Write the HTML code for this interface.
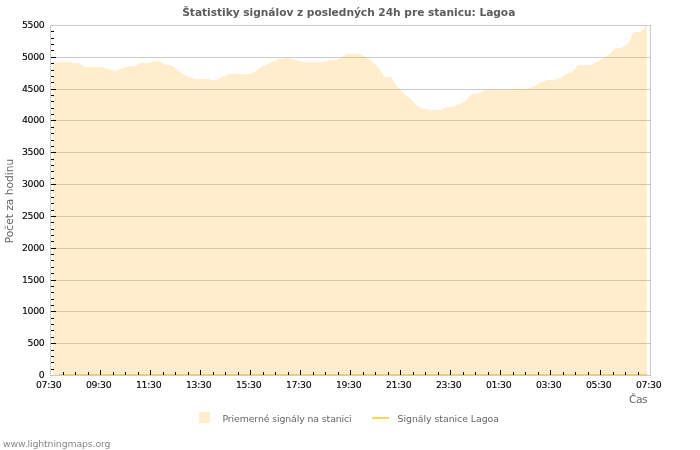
<!DOCTYPE html>
<html lang="sk"><head><meta charset="utf-8"><title>Štatistiky signálov</title>
<style>
html,body{margin:0;padding:0;background:#fff}
body{width:700px;height:450px;overflow:hidden}
svg{display:block;font-family:"DejaVu Sans","Liberation Sans",sans-serif}
.g{shape-rendering:crispEdges}
.t{font-size:9.33px;fill:#000;letter-spacing:-0.3px;stroke:#000;stroke-width:0.1px}
</style></head><body>
<svg width="700" height="450" viewBox="0 0 700 450">
<rect width="700" height="450" fill="#fff"/>
<g class="g">
<rect x="51" y="343" width="599" height="1" fill="#cccccc"/>
<rect x="51" y="311" width="599" height="1" fill="#cccccc"/>
<rect x="51" y="280" width="599" height="1" fill="#cccccc"/>
<rect x="51" y="248" width="599" height="1" fill="#cccccc"/>
<rect x="51" y="216" width="599" height="1" fill="#cccccc"/>
<rect x="51" y="184" width="599" height="1" fill="#cccccc"/>
<rect x="51" y="152" width="599" height="1" fill="#cccccc"/>
<rect x="51" y="120" width="599" height="1" fill="#cccccc"/>
<rect x="51" y="89" width="599" height="1" fill="#cccccc"/>
<rect x="51" y="57" width="599" height="1" fill="#cccccc"/>
<path d="M53 375V62H72V63H79V64H81V65H82V66H84V67H90V66H91V67H104V68H107V69H110V70H113V71H117V70H119V69H121V68H125V67H128V66H136V65H138V64H140V63H150V62H153V61H160V62H162V63H163V64H165V65H172V66H173V67H174V68H176V69H177V70H178V71H179V72H181V73H182V74H184V75H185V76H188V77H191V78H194V79H210V80H217V79H219V78H221V77H223V76H226V75H228V74H234V73H235V74H250V73H253V72H255V71H256V70H258V69H259V68H261V67H263V66H265V65H267V64H269V63H271V62H273V61H276V60H278V59H284V58H291V59H294V60H297V61H301V62H325V61H328V60H337V59H340V58H342V57H343V56H345V55H346V54H359V53H360V54H362V55H363V56H365V57H366V58H368V59H369V60H371V61H372V62H373V63H374V64H375V65H376V66H377V67H378V68H379V69H380V71H381V72H382V74H383V75H384V77H391V78H392V80H393V81H394V83H395V84H396V86H397V87H398V88H399V89H400V90H401V91H402V92H403V93H404V94H405V95H406V96H407V97H409V98H410V99H411V100H412V101H413V102H414V103H415V104H416V105H418V106H419V107H420V108H422V109H429V110H442V109H444V108H446V107H453V106H456V105H459V104H461V103H463V102H465V101H466V100H467V99H468V97H469V96H470V95H471V94H478V93H480V92H482V91H484V90H515V89H528V88H531V87H534V86H536V85H537V84H539V83H540V82H543V81H546V80H556V79H559V78H561V77H562V76H564V75H565V74H568V73H571V72H572V71H573V70H574V69H575V68H576V67H577V66H578V65H584V64H585V65H592V64H594V63H596V62H598V61H600V60H601V59H603V58H605V57H606V56H608V55H609V54H610V53H611V52H612V51H613V50H614V49H615V48H622V47H624V46H625V45H627V44H628V43H629V41H630V39H631V37H632V34H633V33H634V32H641V31H642V30H643V29H644V28H645V27H646V26H647V375Z" fill="rgba(255,165,0,0.2)"/>
<rect x="59" y="374" width="588" height="1" fill="#ffd146"/>
<path d="M50 25H651V376H50ZM51 26V375H650V26Z" fill="#cbcbcb" fill-rule="evenodd"/>
<path d="M51 369h3v1h-3zM51 362h3v1h-3zM51 356h3v1h-3zM51 350h3v1h-3zM51 343h5v1h-5zM51 337h3v1h-3zM51 330h3v1h-3zM51 324h3v1h-3zM51 318h3v1h-3zM51 311h5v1h-5zM51 305h3v1h-3zM51 299h3v1h-3zM51 292h3v1h-3zM51 286h3v1h-3zM51 280h5v1h-5zM51 273h3v1h-3zM51 267h3v1h-3zM51 260h3v1h-3zM51 254h3v1h-3zM51 248h5v1h-5zM51 241h3v1h-3zM51 235h3v1h-3zM51 229h3v1h-3zM51 222h3v1h-3zM51 216h5v1h-5zM51 210h3v1h-3zM51 203h3v1h-3zM51 197h3v1h-3zM51 190h3v1h-3zM51 184h5v1h-5zM51 178h3v1h-3zM51 171h3v1h-3zM51 165h3v1h-3zM51 159h3v1h-3zM51 152h5v1h-5zM51 146h3v1h-3zM51 140h3v1h-3zM51 133h3v1h-3zM51 127h3v1h-3zM51 120h5v1h-5zM51 114h3v1h-3zM51 108h3v1h-3zM51 101h3v1h-3zM51 95h3v1h-3zM51 89h5v1h-5zM51 82h3v1h-3zM51 76h3v1h-3zM51 70h3v1h-3zM51 63h3v1h-3zM51 57h5v1h-5zM51 50h3v1h-3zM51 44h3v1h-3zM51 38h3v1h-3zM51 31h3v1h-3zM63 372h1v3h-1zM75 372h1v3h-1zM88 372h1v3h-1zM100 370h1v5h-1zM113 372h1v3h-1zM125 372h1v3h-1zM138 372h1v3h-1zM150 370h1v5h-1zM163 372h1v3h-1zM175 372h1v3h-1zM188 372h1v3h-1zM200 370h1v5h-1zM213 372h1v3h-1zM225 372h1v3h-1zM238 372h1v3h-1zM250 370h1v5h-1zM263 372h1v3h-1zM275 372h1v3h-1zM288 372h1v3h-1zM300 370h1v5h-1zM313 372h1v3h-1zM325 372h1v3h-1zM338 372h1v3h-1zM350 370h1v5h-1zM363 372h1v3h-1zM375 372h1v3h-1zM388 372h1v3h-1zM400 370h1v5h-1zM413 372h1v3h-1zM425 372h1v3h-1zM438 372h1v3h-1zM450 370h1v5h-1zM463 372h1v3h-1zM475 372h1v3h-1zM488 372h1v3h-1zM500 370h1v5h-1zM513 372h1v3h-1zM525 372h1v3h-1zM538 372h1v3h-1zM550 370h1v5h-1zM563 372h1v3h-1zM575 372h1v3h-1zM588 372h1v3h-1zM600 370h1v5h-1zM613 372h1v3h-1zM625 372h1v3h-1zM638 372h1v3h-1z" fill="#000"/>
<rect x="199" y="412" width="11" height="11" fill="rgba(255,165,0,0.2)"/>
<rect x="372" y="417" width="17" height="2" fill="#ffd656"/>
</g>
<text transform="translate(182.2 15.7) scale(1 0.94)" font-size="10.67px" font-weight="bold" fill="#5c5c5c" letter-spacing="-0.04" id="title">Štatistiky signálov z posledných 24h pre stanicu: Lagoa</text>
<g class="t" text-anchor="end"><text x="44.5" y="378">0</text><text x="44.5" y="346">500</text><text x="44.5" y="314">1000</text><text x="44.5" y="283">1500</text><text x="44.5" y="251">2000</text><text x="44.5" y="219">2500</text><text x="44.5" y="187">3000</text><text x="44.5" y="155">3500</text><text x="44.5" y="123">4000</text><text x="44.5" y="92">4500</text><text x="44.5" y="60">5000</text><text x="44.5" y="28">5500</text></g>
<g class="t" text-anchor="middle"><text x="48.6" y="388">07:30</text><text x="98.6" y="388">09:30</text><text x="148.6" y="388">11:30</text><text x="198.6" y="388">13:30</text><text x="248.6" y="388">15:30</text><text x="298.6" y="388">17:30</text><text x="348.6" y="388">19:30</text><text x="398.6" y="388">21:30</text><text x="448.6" y="388">23:30</text><text x="498.6" y="388">01:30</text><text x="548.6" y="388">03:30</text><text x="598.6" y="388">05:30</text><text x="648.6" y="388">07:30</text></g>
<text transform="translate(13 201) rotate(-90)" text-anchor="middle" font-size="10.67px" fill="#666" id="ytitle">Počet za hodinu</text>
<text x="629" y="403" font-size="10.67px" fill="#666" letter-spacing="-0.45" id="xtitle">Čas</text>
<text x="222.5" y="422" font-size="9.33px" fill="#666" letter-spacing="-0.1" id="leg1">Priemerné signály na stanici</text>
<text x="397.6" y="422" font-size="9.33px" fill="#666" letter-spacing="-0.03" id="leg2">Signály stanice Lagoa</text>
<text x="3" y="446.5" font-size="9.33px" fill="#888" letter-spacing="-0.12" id="foot">www.lightningmaps.org</text>
</svg>
</body></html>
